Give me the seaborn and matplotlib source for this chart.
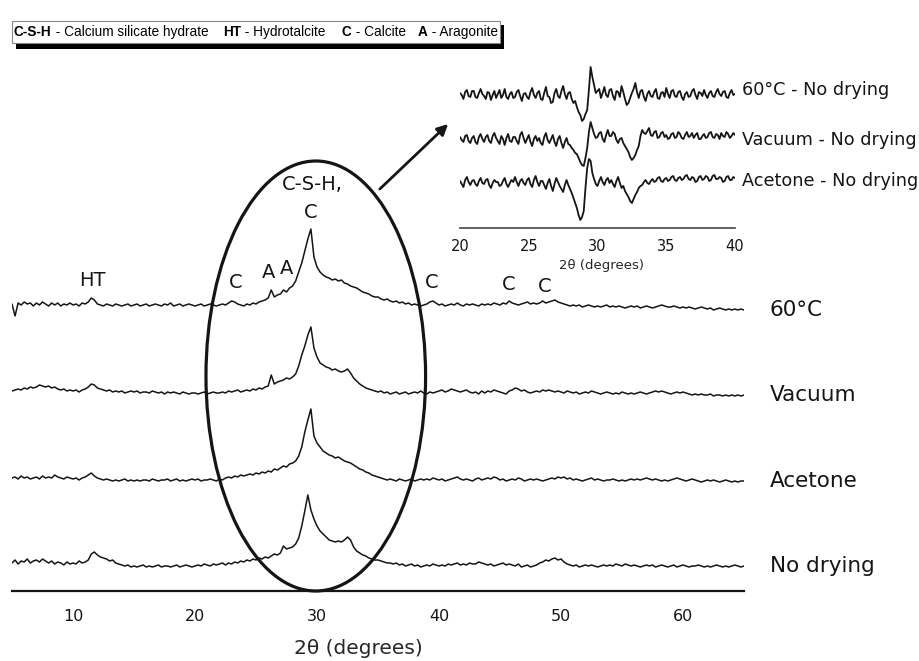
import numpy as np
import pandas as pd
import matplotlib
matplotlib.use("Agg")
import matplotlib.pyplot as plt
from matplotlib.patches import Ellipse, Rectangle
import seaborn as sns

# ---------------- data (arbitrary intensity units) ----------------
two_theta_start, two_theta_step = 5.0, 0.25          # main scan 5-65 deg
samples = ["60\u00b0C", "Vacuum", "Acetone", "No drying"]
sample_offsets = [261, 173, 86, 0]

i_60C = [
    1, -11, 2, 0, 3, 1, 2, -1, 2, 0, 3, 1, -1, 2, 0, 2, -1, 1, 0, 2,
    0, 1, -1, 2, 1, 3, 7, 5, 1, 0, -1, 1, 0, -1, 1, 0, -1, 0, 1, -1,
    0, 1, -1, 0, 1, -1, 0, 1, 0, -1, 1, 0, 2, -1, 0, 1, -1, 0, 1, 0,
    -1, 0, 1, -1, 0, 1, 0, -1, 0, 1, 0, 2, 4, 3, 1, 0, -1, 1, 0, 2,
    1, 3, 4, 5, 7, 15, 8, 10, 11, 15, 13, 17, 19, 24, 33, 42, 54, 66, 76, 48,
    38, 33, 30, 28, 27, 25, 26, 24, 25, 22, 21, 19, 18, 17, 15, 13, 12, 11, 9, 8,
    8, 6, 5, 6, 4, 3, 4, 2, 3, 1, 2, 0, 1, 0, -1, 0, 1, 3, 4, 2,
    0, 1, -1, 0, 1, 0, 2, 0, -1, 1, 0, 1, 0, -1, 1, 0, 1, 0, 2, 1,
    0, 2, 1, 4, 2, 1, 0, 1, 2, 3, 1, 2, 1, 2, 4, 2, 3, 4, 5, 3,
    2, 1, 0, -1, 0, -1, 0, -2, -1, 0, -1, -2, -1, -2, -1, 0, -2, -1, -2, -1,
    -2, -3, -2, -1, -2, -1, -3, -2, -1, -2, -3, -2, -1, 0, -1, -2, -2, -1, -2, -3,
    -2, -3, -2, -3, -4, -3, -2, -3, -4, -3, -5, -4, -3, -4, -5, -4, -5, -4, -5, -4,
    -5,
]
i_vacuum = [
    2, 3, 4, 3, 5, 4, 6, 5, 6, 8, 7, 6, 7, 5, 6, 4, 3, 4, 2, 3,
    2, 3, 1, 3, 4, 6, 9, 8, 5, 4, 3, 2, 3, 1, 2, 1, 2, 0, 1, 2,
    1, 2, 0, 1, 1, 0, 2, 1, 0, 1, -1, 1, 0, 1, 0, -1, 1, 0, -1, 0,
    0, -1, 0, 1, -1, 0, 1, 0, 0, 1, 0, 2, 1, 2, 3, 1, 2, 3, 2, 4,
    3, 5, 4, 6, 7, 18, 9, 11, 12, 13, 15, 14, 16, 19, 27, 38, 47, 58, 66, 45,
    36, 30, 28, 26, 25, 23, 24, 22, 21, 22, 24, 20, 15, 12, 9, 7, 5, 4, 3, 2,
    1, 2, 0, 1, -1, 0, 1, -1, 0, 1, -1, 0, 1, 0, 2, 0, -1, 1, 0, 1,
    2, 3, 1, 2, 4, 3, 2, 1, 2, 3, 1, 0, 1, -1, 2, 0, 2, 1, 3, 2,
    1, 0, -1, 2, 3, 5, 4, 2, 3, 1, 0, 1, 2, 1, 3, 2, 3, 2, 1, 2,
    1, 0, 2, 1, 0, 1, -1, 0, 1, 0, 2, 1, 0, -1, 0, 1, 0, -1, 0, -1,
    1, 0, -1, 0, -1, 0, 1, 0, -1, 0, 1, 2, 1, 2, 1, 0, -1, 0, 1, 0,
    1, 0, -1, -2, -1, -2, -1, -2, -2, -1, -3, -2, -2, -3, -2, -3, -2, -3, -2, -3,
    -2,
]
i_acetone = [
    2, 3, 1, 4, 2, 3, 1, 2, 3, 1, 4, 2, 3, 2, 5, 3, 2, 1, 3, 2,
    1, 2, 0, 2, 3, 5, 7, 4, 2, 1, 0, 1, 0, -1, 0, -1, 0, 1, -1, 0,
    -1, 0, -1, 0, 0, -1, 1, 0, -1, 0, 0, 1, -1, 0, 1, -1, 0, -1, 0, 1,
    0, 1, -1, 0, 0, 1, 0, -1, 1, 0, 2, 3, 2, 4, 3, 5, 4, 5, 6, 5,
    7, 6, 8, 7, 9, 8, 11, 10, 12, 14, 13, 16, 17, 19, 24, 33, 48, 60, 71, 44,
    37, 33, 29, 27, 25, 24, 22, 23, 21, 19, 18, 17, 15, 13, 11, 10, 8, 7, 5, 4,
    3, 2, 1, 0, 1, 0, -1, 1, 0, -1, 0, 1, -1, 0, 1, 0, 1, 0, 2, 1,
    0, 1, -1, 0, 1, 2, 3, 1, 0, 1, 0, -1, 1, 2, 0, 1, 2, 1, 3, 2,
    0, 1, -1, 0, 1, 0, 2, 1, -1, 0, 1, 0, 1, 0, -1, 0, 1, 2, 1, 3,
    2, 3, 1, 2, 0, 1, 0, -1, 0, 1, 2, 0, 1, 0, -1, 0, 0, 1, 0, -1,
    0, -1, 0, 1, 0, 1, 0, 1, 2, 1, 0, 1, 0, -1, 0, -1, 0, 1, 2, 1,
    0, -1, 0, 1, 0, -1, -2, -1, 0, -1, 0, -1, -2, -1, 0, -1, -2, -1, -2, -1,
    -1,
]
i_nodrying = [
    3, 6, 2, 5, 4, 7, 3, 5, 6, 4, 7, 5, 3, 5, 2, 4, 3, 1, 4, 2,
    3, 2, 5, 3, 4, 6, 12, 14, 11, 9, 8, 7, 5, 6, 3, 2, 1, 0, 1, -1,
    0, -1, 0, 1, -1, 0, -1, 0, 1, -1, 0, 0, -1, 0, 1, -1, 0, 1, 0, -1,
    0, 1, 0, 2, 1, 0, 2, 1, 2, 3, 1, 3, 2, 4, 3, 5, 4, 6, 5, 7,
    6, 8, 7, 9, 8, 10, 12, 11, 13, 20, 17, 18, 19, 22, 28, 40, 55, 71, 56, 47,
    40, 35, 32, 29, 26, 25, 24, 25, 24, 26, 29, 26, 19, 15, 13, 11, 10, 8, 7, 6,
    6, 5, 4, 3, 3, 2, 3, 1, 2, 0, 1, 2, 0, 1, -1, 0, 1, 0, 2, 1,
    0, 1, 0, 2, 1, 2, 3, 1, 2, 1, 3, 2, 2, 4, 3, 2, 1, 2, 0, 1,
    2, 3, 1, 2, 1, 0, 2, -1, 0, 1, -1, 0, 1, 3, 4, 6, 5, 7, 8, 6,
    7, 4, 2, 1, 0, 1, -1, 0, 1, 0, 1, 0, -1, 0, 1, 0, 1, 0, 2, 1,
    0, 2, 1, 0, 1, 0, -1, 0, 1, 0, 1, -1, 0, 1, 0, -1, 0, 1, -1, 0,
    1, 0, -1, 0, 0, 1, 0, -1, 0, -1, 0, 1, 0, -1, 0, -1, 0, 1, 0, -1,
    0,
]

# inset: difference patterns, 20-40 deg
inset_start, inset_step = 20.0, 0.125
diff_labels = ["60\u00b0C - No drying", "Vacuum - No drying", "Acetone - No drying"]
diff_offsets = [133, 88, 45]
d_60C = [
    2, 0, -4, 3, 5, -1, -2, 4,
    4, -2, -3, 2, 6, 1, -1, -4,
    3, 2, -5, 0, 4, -3, 1, 5,
    -3, 0, 6, -2, -4, 1, 3, -3,
    -2, 3, 5, -1, -6, 1, 2, -2,
    -4, 3, 7, 0, -3, 2, 4, -4,
    -5, 2, 8, -1, -2, -8, -7, 2,
    6, -1, -3, 4, 9, 1, -4, 2,
    3, -4, -8, -6, -12, -17, -20, -26,
    -24, -19, -15, 5, 28, 18, 10, 2,
    4, 6, -3, 2, 8, 0, -2, 5,
    6, -1, -5, 4, 3, -2, 9, 3,
    -4, -10, -8, -3, 2, 6, 12, 3,
    -3, 4, 5, -2, -6, 1, 4, -1,
    -2, 3, 6, -3, -4, 2, 3, -2,
    7, 1, -3, 4, 5, -1, -2, 3,
    4, -2, -5, 1, 3, -2, -1, 4,
    6, 0, -4, 3, 2, -1, 5, 0,
    -3, 2, 4, -1, -2, 3, 6, 1,
    -1, 3, 4, -2, -3, 2, 5, 0,
    1,
]
d_vacuum = [
    3, 0, -2, 4, 5, -1, -3, 2,
    4, -2, -4, 3, 6, 1, -2, 3,
    5, -1, -3, 4, 7, 2, -1, -4,
    4, 1, -5, 2, 6, -1, -2, 3,
    3, -1, -4, 5, 8, 2, -3, 1,
    5, -2, -6, 1, 4, -1, 2, -3,
    -5, 3, 7, 0, -3, 1, 5, -2,
    -6, 1, 4, -3, -8, -2, 2, -4,
    -5, -8, -10, -13, -14, -18, -22, -25,
    -26, -18, -8, 8, 18, 12, 6, 2,
    3, 7, 8, 1, -2, 5, 10, 4,
    4, 8, 6, 0, -3, 1, 2, -3,
    -6, -9, -12, -17, -20, -18, -15, -10,
    -6, 4, 10, 7, 6, 9, 12, 5,
    4, 8, 9, 2, 3, 7, 8, 3,
    5, 1, 2, 6, 7, 2, 3, 8,
    6, 2, 1, 5, 8, 3, 4, 7,
    2, 5, 7, 1, 1, 4, 6, 2,
    3, 7, 8, 3, 2, 6, 5, 1,
    7, 4, 3, 8, 6, 2, 4, 7,
    5,
]
d_acetone = [
    2, -1, -4, 3, 6, 1, -2, 2,
    3, -1, -3, 2, 5, 0, -1, 3,
    4, -2, -5, 0, 3, 1, 1, -3,
    -2, 2, 5, -1, -4, 0, 3, 1,
    6, 1, -3, 2, 4, 0, -2, 3,
    5, -1, -4, 3, 7, 1, -3, 2,
    2, -2, -6, 0, 4, -3, -8, -1,
    5, 1, -3, -6, -9, -2, 3, -2,
    -6, -10, -15, -20, -25, -32, -37, -34,
    -28, -5, 15, 24, 22, 10, 4, -1,
    -3, 2, 6, 1, -2, 3, 5, 0,
    3, -1, -4, 2, 6, 0, -5, -3,
    -8, -11, -14, -18, -20, -16, -12, -9,
    -5, -3, -2, 1, 3, 0, -1, 2,
    4, 1, 2, 5, 6, 2, 1, 4,
    5, 2, 3, 6, 7, 3, 2, 5,
    6, 3, 4, 7, 8, 4, 3, 6,
    5, 1, 2, 6, 7, 3, 4, 7,
    6, 2, 3, 7, 8, 4, 4, 6,
    5, 1, 2, 6, 7, 3, 3, 6,
    5,
]

main_ticks = [10, 20, 30, 40, 50, 60]
inset_ticks = [20, 25, 30, 35, 40]

# ---------------- build tables ----------------
main_series = [i_60C, i_vacuum, i_acetone, i_nodrying]
frames = []
for name, vals, off in zip(samples, main_series, sample_offsets):
    vals = np.asarray(vals, dtype=float)
    tt = two_theta_start + two_theta_step * np.arange(len(vals))
    frames.append(pd.DataFrame({"two_theta": tt, "intensity": vals + off, "sample": name}))
df_main = pd.concat(frames, ignore_index=True)

diff_series = [d_60C, d_vacuum, d_acetone]
frames = []
for name, vals, off in zip(diff_labels, diff_series, diff_offsets):
    vals = np.asarray(vals, dtype=float)
    tt = inset_start + inset_step * np.arange(len(vals))
    frames.append(pd.DataFrame({"two_theta": tt, "intensity": vals + off, "sample": name}))
df_diff = pd.concat(frames, ignore_index=True)

# ---------------- figure ----------------
sns.set_style("white")
plt.rcParams["font.family"] = ["DejaVu Sans"]
W, H = 920, 661
fig = plt.figure(figsize=(W / 100, H / 100), dpi=100)

def fr(x0, y_top, x1, y_bot):
    return [x0 / W, 1 - y_bot / H, (x1 - x0) / W, (y_bot - y_top) / H]

ink = "#151515"

ax = fig.add_axes(fr(12, 140, 744, 591))
sns.lineplot(data=df_main, x="two_theta", y="intensity", hue="sample",
             palette=[ink] * 4, legend=False, ax=ax, lw=1.1,
             estimator=None, sort=False)
ax.set_xlim(5, 65)
ax.set_ylim(-25, 426)
for s in ["left", "right", "top"]:
    ax.spines[s].set_visible(False)
ax.spines["bottom"].set_linewidth(1.6)
ax.spines["bottom"].set_color(ink)
ax.set_yticks([])
ax.set_ylabel("")
ax.set_xticks(main_ticks)
ax.set_xticklabels([str(t) for t in main_ticks])
ax.tick_params(axis="x", direction="out", length=6, width=1.5, colors=ink,
               labelsize=11.5, pad=7)
ax.set_xlabel("2\u03b8 (degrees)", fontsize=14.5, va="center")
ax.xaxis.set_label_coords((358 - 12) / 732, -(648 - 591) / 451)

# sample labels at right
label_y = [256, 171, 85, 0]
for name, yv in zip(samples, label_y):
    ax.text(67.1, yv, name, fontsize=15.5, va="center", ha="left",
            color=ink, clip_on=False)

# phase labels
peak_labels = [("HT", 11.6, 285), ("C", 23.3, 284), ("A", 26.0, 294),
               ("A", 27.5, 298), ("C", 39.4, 283), ("C", 45.7, 281),
               ("C", 48.7, 279)]
for txt, xv, yv in peak_labels:
    ax.text(xv, yv, txt, fontsize=14, ha="center", va="center", color=ink)
ax.text(29.6, 381, "C-S-H,", fontsize=14, ha="center", va="center", color=ink)
ax.text(29.45, 353, "C", fontsize=14, ha="center", va="center", color=ink)

# ellipse around 20-40 region
ax.add_patch(Ellipse((29.9, 190), width=18.0, height=430, fill=False,
                     lw=2.3, ec=ink, clip_on=False))
# arrow to inset
ax.annotate("", xy=(40.75, 442), xytext=(35.15, 377),
            arrowprops=dict(arrowstyle="-|>", lw=2.0, color=ink,
                            mutation_scale=16, shrinkA=0, shrinkB=0),
            annotation_clip=False)

# ---------------- inset ----------------
axi = fig.add_axes(fr(460, 55, 735, 228))
sns.lineplot(data=df_diff, x="two_theta", y="intensity", hue="sample",
             palette=[ink] * 3, legend=False, ax=axi, lw=1.3,
             estimator=None, sort=False)
axi.set_xlim(20, 40)
axi.set_ylim(0, 173)
axi.patch.set_alpha(0)
for s in ["left", "right", "top"]:
    axi.spines[s].set_visible(False)
axi.spines["bottom"].set_linewidth(1.3)
axi.spines["bottom"].set_color("#555555")
axi.set_yticks([])
axi.set_ylabel("")
axi.set_xticks(inset_ticks)
axi.set_xticklabels([str(t) for t in inset_ticks])
axi.tick_params(axis="x", direction="out", length=4, width=1.2, colors=ink,
                labelsize=10.5, pad=4)
axi.set_xlabel("2\u03b8 (degrees)", fontsize=9.5, va="center")
axi.xaxis.set_label_coords((602 - 460) / 275, -(265 - 228) / 173)
for name, yv in zip(diff_labels, [138, 88, 47]):
    axi.text(40.5, yv, name, fontsize=12.7, va="center", ha="left",
             color=ink, clip_on=False)

# ---------------- key box at top ----------------
fig.patches.append(Rectangle((16 / W, 1 - 49 / H), 488 / W, 24 / H,
                             transform=fig.transFigure, fc="black", ec="none",
                             zorder=1))
fig.patches.append(Rectangle((12 / W, 1 - 43 / H), 488 / W, 22 / H,
                             transform=fig.transFigure, fc="white",
                             ec="#888888", lw=0.8, zorder=2))
renderer = fig.canvas.get_renderer()
key_font = ["Liberation Sans Narrow", "Liberation Sans", "DejaVu Sans"]
key_parts = [(14, [("C-S-H", True), (" - Calcium silicate hydrate", False)]),
             (223, [("HT", True), (" - Hydrotalcite", False)]),
             (342, [("C", True), (" - Calcite", False)]),
             (418, [("A", True), (" - Aragonite", False)])]
for x0, parts in key_parts:
    x = x0
    for s, bold in parts:
        t = fig.text(x / W, 1 - 32 / H, s, fontsize=9.8, family=key_font,
                     weight="bold" if bold else "normal", va="center",
                     ha="left", color="black", zorder=3)
        x += t.get_window_extent(renderer).width

fig.savefig("out.png", dpi=100)
